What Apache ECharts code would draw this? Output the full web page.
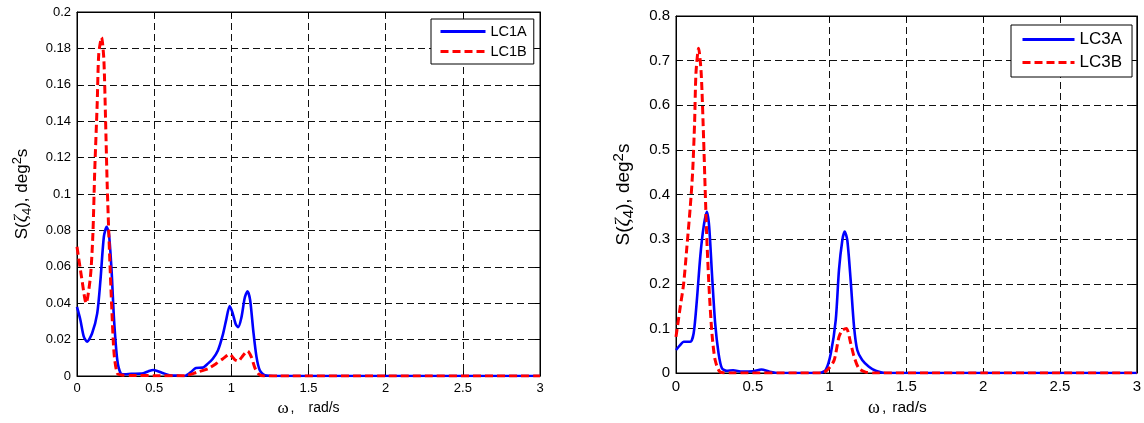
<!DOCTYPE html>
<html>
<head>
<meta charset="utf-8">
<script src="https://cdn.jsdelivr.net/npm/echarts@6/dist/echarts.min.js"></script>
<style>
html,body{margin:0;padding:0;background:#fff;}
#chart{width:1144px;height:423px;}
</style>
</head>
<body>
<div id="chart"></div>
<script>
// ---- data ----
const seriesNames = ['LC1A', 'LC1B', 'LC3A', 'LC3B'];
const xTicks = [0, 0.5, 1, 1.5, 2, 2.5, 3];
const leftYTicks = [0, 0.02, 0.04, 0.06, 0.08, 0.1, 0.12, 0.14, 0.16, 0.18, 0.2];
const rightYTicks = [0, 0.1, 0.2, 0.3, 0.4, 0.5, 0.6, 0.7, 0.8];

const lc1aX = [0, 0.022, 0.044, 0.065, 0.098, 0.131, 0.152, 0.174, 0.192, 0.207, 0.224, 0.24, 0.261, 0.283, 0.31, 0.35, 0.42, 0.46, 0.494, 0.52, 0.56, 0.6, 0.65, 0.695, 0.739, 0.771, 0.815, 0.848, 0.88, 0.913, 0.946, 0.967, 0.989, 1.007, 1.028, 1.044, 1.065, 1.087, 1.105, 1.122, 1.142, 1.163, 1.185, 1.218, 1.3, 2, 3];
const lc1aY = [0.038, 0.0308, 0.0216, 0.0189, 0.0235, 0.0344, 0.0527, 0.0765, 0.082, 0.078, 0.058, 0.031, 0.0088, 0.0015, 0.001, 0.0012, 0.0013, 0.0025, 0.0033, 0.0028, 0.0015, 0.0004, 0.0002, 0, 0.0022, 0.0044, 0.0046, 0.0068, 0.0095, 0.014, 0.023, 0.031, 0.0385, 0.035, 0.0286, 0.0268, 0.032, 0.043, 0.0466, 0.0416, 0.025, 0.0105, 0.003, 0.0004, 0, 0, 0];

const lc1bX = [0, 0.03, 0.059, 0.087, 0.103, 0.115, 0.131, 0.141, 0.159, 0.174, 0.185, 0.196, 0.211, 0.224, 0.24, 0.261, 0.29, 0.35, 0.5, 0.7, 0.782, 0.848, 0.902, 0.946, 0.989, 1.022, 1.044, 1.076, 1.105, 1.13, 1.152, 1.178, 1.21, 1.3, 2, 3];
const lc1bY = [0.071, 0.054, 0.040, 0.0546, 0.078, 0.113, 0.150, 0.177, 0.186, 0.174, 0.141, 0.104, 0.067, 0.040, 0.0125, 0.0015, 0.0005, 0.0003, 0.0002, 0.0002, 0.0022, 0.004, 0.0068, 0.0095, 0.0119, 0.009, 0.0082, 0.0113, 0.0137, 0.0104, 0.0046, 0.001, 0, 0, 0, 0];

const lc3aX = [0, 0.028, 0.05, 0.093, 0.115, 0.136, 0.158, 0.18, 0.201, 0.216, 0.234, 0.255, 0.277, 0.299, 0.33, 0.372, 0.43, 0.5, 0.556, 0.61, 0.67, 0.932, 0.975, 1.008, 1.04, 1.061, 1.083, 1.098, 1.115, 1.137, 1.159, 1.18, 1.212, 1.256, 1.3, 1.36, 2, 3];
const lc3aY = [0.0515, 0.063, 0.070, 0.070, 0.089, 0.164, 0.261, 0.328, 0.361, 0.328, 0.223, 0.111, 0.044, 0.0105, 0.005, 0.006, 0.003, 0.004, 0.008, 0.003, 0, 0, 0.007, 0.044, 0.119, 0.231, 0.298, 0.317, 0.298, 0.208, 0.104, 0.0515, 0.029, 0.014, 0.005, 0, 0, 0];

const lc3bX = [0, 0.028, 0.05, 0.071, 0.093, 0.108, 0.121, 0.13, 0.147, 0.164, 0.18, 0.19, 0.201, 0.216, 0.234, 0.255, 0.288, 0.35, 0.954, 0.997, 1.03, 1.061, 1.083, 1.109, 1.137, 1.159, 1.19, 1.234, 1.3, 2, 3];
const lc3bY = [0.081, 0.149, 0.201, 0.283, 0.373, 0.448, 0.56, 0.672, 0.728, 0.672, 0.522, 0.41, 0.298, 0.186, 0.089, 0.029, 0.002, 0, 0, 0.011, 0.029, 0.081, 0.096, 0.10, 0.067, 0.037, 0.0105, 0.002, 0, 0, 0];

// ---- helpers ----
const pairs = (xs, ys) => xs.map((x, i) => [x, ys[i]]);
const SANS = 'Liberation Sans';
const SERIF = 'Liberation Serif';
const fmt = v => String(+v.toFixed(2));
const gridLine = { show: true, lineStyle: { color: '#111', type: [7, 4], width: 1 } };

function xAxes(gi, fs, wfs, tfs, gapLeft, shiftPad) {
  return [
    {
      type: 'value', gridIndex: gi, min: xTicks[0], max: xTicks[xTicks.length - 1],
      interval: xTicks[1] - xTicks[0], position: 'bottom',
      axisLine: { show: true, onZero: false, lineStyle: { color: '#000', width: 1 } },
      axisTick: { show: true, inside: true, length: 5, lineStyle: { color: '#000' } },
      axisLabel: { color: '#000', fontFamily: SANS, fontSize: fs, margin: 6, formatter: fmt },
      splitLine: gridLine,
      name: '{w|ω}{c|,}{r|rad/s}', nameLocation: 'middle', nameGap: gi === 0 ? 24 : 25,
      nameTextStyle: {
        rich: {
          w: { fontFamily: SERIF, fontSize: wfs, color: '#000' },
          c: { fontFamily: SANS, fontSize: tfs, color: '#000', padding: [0, 0, 0, 2] },
          r: { fontFamily: SANS, fontSize: tfs, color: '#000', padding: [0, shiftPad, 0, gapLeft] }
        }
      }
    },
    {
      type: 'value', gridIndex: gi, min: xTicks[0], max: xTicks[xTicks.length - 1],
      interval: xTicks[1] - xTicks[0], position: 'top',
      axisLine: { show: true, onZero: false, lineStyle: { color: '#000', width: 1 } },
      axisTick: { show: true, inside: true, length: 5, lineStyle: { color: '#000' } },
      axisLabel: { show: false }, splitLine: { show: false }
    }
  ];
}

function yAxes(gi, ticks, fs, nfs, gap) {
  const mn = ticks[0], mx = ticks[ticks.length - 1], iv = ticks[1] - ticks[0];
  return [
    {
      type: 'value', gridIndex: gi, min: mn, max: mx, interval: iv, position: 'left',
      axisLine: { show: true, onZero: false, lineStyle: { color: '#000', width: 1 } },
      axisTick: { show: true, inside: true, length: 5, lineStyle: { color: '#000' } },
      axisLabel: { color: '#000', fontFamily: SANS, fontSize: fs, margin: 6, formatter: fmt },
      splitLine: gridLine,
      name: '{t|S(}{z|ζ}{s|4}{t|), deg}{p|2}{t|s}', nameLocation: 'middle', nameGap: gap,
      nameTextStyle: {
        rich: {
          t: { fontFamily: SANS, fontSize: nfs, color: '#000', lineHeight: nfs + 6 },
          z: { fontFamily: SERIF, fontStyle: 'italic', fontSize: nfs + 1, color: '#000', lineHeight: nfs + 6 },
          s: { fontFamily: SANS, fontSize: nfs - 4, color: '#000', lineHeight: nfs - 5, verticalAlign: 'bottom' },
          p: { fontFamily: SANS, fontSize: nfs - 4, color: '#000', lineHeight: nfs - 5, verticalAlign: 'top' }
        }
      }
    },
    {
      type: 'value', gridIndex: gi, min: mn, max: mx, interval: iv, position: 'right',
      axisLine: { show: true, onZero: false, lineStyle: { color: '#000', width: 1 } },
      axisTick: { show: true, inside: true, length: 5, lineStyle: { color: '#000' } },
      axisLabel: { show: false }, splitLine: { show: false }
    }
  ];
}

function line(name, xi, yi, xs, ys, color, dashed) {
  return {
    name, type: 'line', xAxisIndex: xi, yAxisIndex: yi, data: pairs(xs, ys),
    showSymbol: false, symbol: 'none', smooth: 0.25, animation: false,
    lineStyle: { color, width: dashed ? 3 : 2.6, type: dashed ? [8, 4] : 'solid' },
    itemStyle: { color }
  };
}

function legend(names, left, top, pad, gap, w, h, fs) {
  return {
    data: names, orient: 'vertical', left, top,
    padding: pad, itemGap: gap, itemWidth: w, itemHeight: h,
    backgroundColor: '#fff', borderColor: '#000', borderWidth: 1, borderRadius: 0,
    itemStyle: { opacity: 0 },
    lineStyle: { width: 3, inactiveWidth: 3 },
    textStyle: { fontFamily: SANS, fontSize: fs, color: '#000' },
    selectedMode: false
  };
}

const chart = echarts.init(document.getElementById('chart'), null, { renderer: 'canvas' });
chart.setOption({
  backgroundColor: '#fff',
  animation: false,
  grid: [
    { left: 77, top: 12, width: 463, height: 364, show: true, borderColor: '#000', borderWidth: 1, backgroundColor: '#fff' },
    { left: 676, top: 16, width: 462, height: 357, show: true, borderColor: '#000', borderWidth: 1, backgroundColor: '#fff' }
  ],
  xAxis: [...xAxes(0, 13, 17, 14, 14, 0), ...xAxes(1, 15, 18, 15.5, 6, 18)],
  yAxis: [...yAxes(0, leftYTicks, 13, 17, 43), ...yAxes(1, rightYTicks, 15, 19, 40)],
  legend: [
    legend([seriesNames[0], seriesNames[1]], 431, 19, [5, 7, 5, 8], 5, 45, 14, 14.5),
    legend([seriesNames[2], seriesNames[3]], 1011, 25, [6, 10, 6, 10], 6, 52, 16, 17)
  ],
  series: [
    line(seriesNames[0], 0, 0, lc1aX, lc1aY, '#0000ff', false),
    line(seriesNames[1], 0, 0, lc1bX, lc1bY, '#ff0000', true),
    line(seriesNames[2], 2, 2, lc3aX, lc3aY, '#0000ff', false),
    line(seriesNames[3], 2, 2, lc3bX, lc3bY, '#ff0000', true)
  ]
});
</script>
</body>
</html>
